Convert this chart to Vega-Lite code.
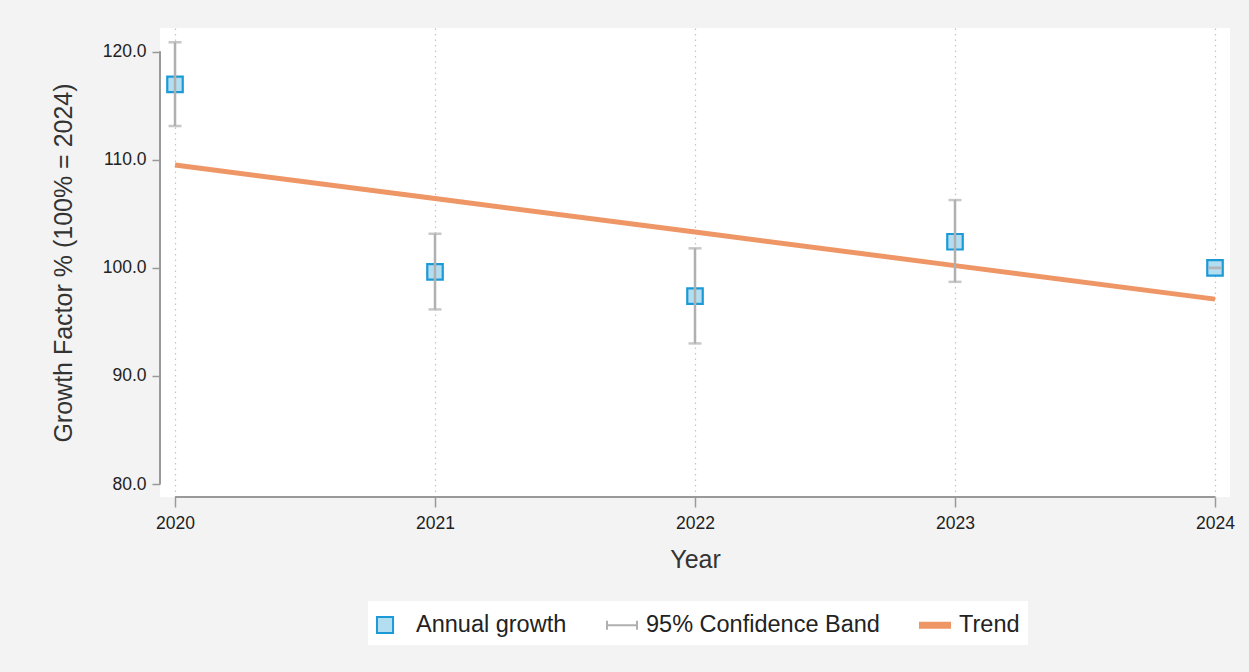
{
  "$schema": "https://vega.github.io/schema/vega-lite/v6.json",
  "autosize": "none",
  "width": 1070,
  "height": 469,
  "padding": {"left": 160, "top": 28, "right": 19, "bottom": 175},
  "background": "#f3f3f3",
  "config": {
    "font": "Liberation Sans",
    "view": {"fill": "white", "stroke": null},
    "axis": {
      "gridColor": "#c4c4c4",
      "gridDash": [1.5, 4],
      "gridWidth": 1.2,
      "domain": false,
      "tickColor": "#999999",
      "tickWidth": 1.5,
      "labelFontSize": 17.5,
      "labelColor": "#222222",
      "titleFontSize": 25,
      "titleFontWeight": "normal",
      "titleColor": "#333333"
    },
    "legend": {
      "orient": "none",
      "legendX": 208,
      "legendY": 573,
      "direction": "horizontal",
      "fillColor": "white",
      "padding": 8,
      "labelFontSize": 23.5,
      "labelLimit": 0,
      "labelColor": "#222222",
      "symbolSize": 900,
      "labelOffset": 8,
      "columnPadding": 36
    }
  },
  "data": {
    "values": [
      {"year": 2020, "growth": 116.99, "lo": 113.13, "hi": 120.88, "trend": 109.52},
      {"year": 2021, "growth": 99.64, "lo": 96.16, "hi": 103.16, "trend": 106.42},
      {"year": 2022, "growth": 97.39, "lo": 93.01, "hi": 101.81, "trend": 103.32},
      {"year": 2023, "growth": 102.42, "lo": 98.71, "hi": 106.28, "trend": 100.21},
      {"year": 2024, "growth": 100.0, "lo": 100.0, "hi": 100.0, "trend": 97.11}
    ]
  },
  "encoding": {
    "x": {
      "field": "year",
      "type": "quantitative",
      "scale": {"domain": [2019.9423, 2024.0577], "nice": false, "zero": false},
      "axis": {
        "title": "Year",
        "values": [2020, 2021, 2022, 2023, 2024],
        "format": "d",
        "tickSize": 10,
        "labelPadding": 7,
        "titlePadding": 16
      }
    }
  },
  "layer": [
    {
      "mark": {"type": "rule", "color": "#999999", "strokeWidth": 2},
      "encoding": {
        "x": {"datum": 2019.9423, "type": "quantitative"},
        "y": {"datum": 80, "type": "quantitative"},
        "y2": {"datum": 120}
      }
    },
    {
      "mark": {"type": "rule", "color": "#999999", "strokeWidth": 2},
      "encoding": {
        "x": {"datum": 2020, "type": "quantitative"},
        "x2": {"datum": 2024},
        "y": {"datum": 78.8, "type": "quantitative"}
      }
    },
    {
      "mark": {"type": "line", "strokeWidth": 5, "strokeCap": "butt"},
      "encoding": {
        "y": {
          "field": "trend",
          "type": "quantitative",
          "scale": {"domain": [78.8, 122.2], "nice": false, "zero": false},
          "axis": {
            "title": "Growth Factor % (100% = 2024)",
            "values": [80, 90, 100, 110, 120],
            "format": ".1f",
            "tickSize": 8,
            "labelPadding": 6,
            "titlePadding": 26
          }
        },
        "stroke": {
          "datum": "Trend",
          "type": "nominal",
          "scale": {
            "domain": ["Annual growth", "95% Confidence Band", "Trend"],
            "range": ["#1c9ad6", "#b0b0b0", "#ee9666"]
          },
          "legend": {
            "title": null,
            "encode": {
              "symbols": {
                "update": {
                  "shape": {"signal": "datum.value === 'Annual growth' ? 'M-1,-0.53H0.07V0.53H-1Z' : (datum.value === 'Trend' ? 'M-1,-0.16H1V0.16H-1Z' : 'M-1,-0.3V0.3M-1,0H1M1,-0.3V0.3')"},
                  "fill": {"signal": "datum.value === 'Annual growth' ? '#b3def2' : (datum.value === 'Trend' ? '#ee9666' : 'transparent')"},
                  "stroke": {"signal": "datum.value === 'Annual growth' ? '#1c9ad6' : (datum.value === 'Trend' ? 'transparent' : '#b0b0b0')"},
                  "strokeWidth": {"value": 2},
                  "opacity": {"value": 1},
                  "fillOpacity": {"value": 1},
                  "strokeOpacity": {"value": 1}
                }
              }
            }
          }
        }
      }
    },
    {
      "mark": {"type": "point", "shape": "square", "size": 240, "filled": false, "fill": "#b3def2", "fillOpacity": 1, "strokeWidth": 2.2, "opacity": 1},
      "encoding": {
        "y": {"field": "growth", "type": "quantitative"},
        "stroke": {"datum": "Annual growth", "type": "nominal"}
      }
    },
    {
      "mark": {"type": "rule", "strokeWidth": 2.5},
      "encoding": {
        "y": {"field": "lo", "type": "quantitative"},
        "y2": {"field": "hi"},
        "stroke": {"datum": "95% Confidence Band", "type": "nominal"}
      }
    },
    {
      "mark": {"type": "tick", "orient": "horizontal", "size": 13, "thickness": 2.5, "color": "#b0b0b0"},
      "encoding": {
        "y": {"field": "lo", "type": "quantitative"}
      }
    },
    {
      "mark": {"type": "tick", "orient": "horizontal", "size": 13, "thickness": 2.5, "color": "#b0b0b0"},
      "encoding": {
        "y": {"field": "hi", "type": "quantitative"}
      }
    }
  ]
}
